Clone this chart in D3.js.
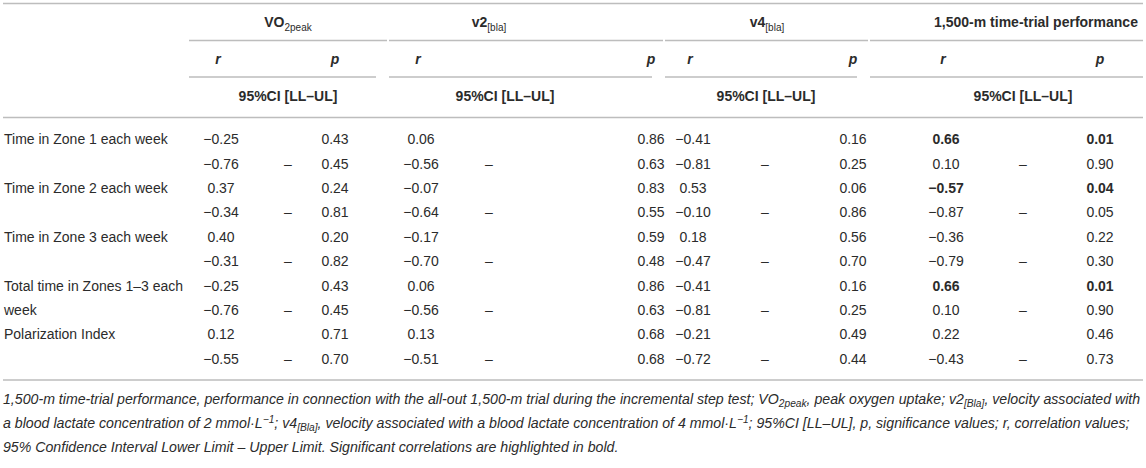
<!DOCTYPE html>
<html>
<head>
<meta charset="utf-8">
<script src="https://cdn.jsdelivr.net/npm/d3@7"></script>
<style>
  html, body { margin: 0; padding: 0; background: #fff; }
  svg text { font-family: "Liberation Sans", Arial, Helvetica, sans-serif; fill: #2b2b2b; }
</style>
</head>
<body>
<svg id="table"></svg>
<script>
// table contents
var rowLabels = ["Time in Zone 1 each week", "Time in Zone 2 each week", "Time in Zone 3 each week",
                 "Total time in Zones 1\u20133 each week", "Polarization Index"];
var groupNames = ["VO", "v2", "v4", "1,500-m time-trial performance"];
var groupSubs = ["2peak", "[bla]", "[bla]", ""];

var vo2R  = [-0.25, 0.37, 0.40, -0.25, 0.12];
var vo2P  = [0.43, 0.24, 0.20, 0.43, 0.71];
var vo2LL = [-0.76, -0.34, -0.31, -0.76, -0.55];
var vo2UL = [0.45, 0.81, 0.82, 0.45, 0.70];

var v2R  = [0.06, -0.07, -0.17, 0.06, 0.13];
var v2P  = [0.86, 0.83, 0.59, 0.86, 0.68];
var v2LL = [-0.56, -0.64, -0.70, -0.56, -0.51];
var v2UL = [0.63, 0.55, 0.48, 0.63, 0.68];

var v4R  = [-0.41, 0.53, 0.18, -0.41, -0.21];
var v4P  = [0.16, 0.06, 0.56, 0.16, 0.49];
var v4LL = [-0.81, -0.10, -0.47, -0.81, -0.72];
var v4UL = [0.25, 0.86, 0.70, 0.25, 0.44];

var ttR  = [0.66, -0.57, -0.36, 0.66, 0.22];
var ttP  = [0.01, 0.04, 0.22, 0.01, 0.46];
var ttLL = [0.10, -0.87, -0.79, 0.10, -0.43];
var ttUL = [0.90, 0.05, 0.30, 0.90, 0.73];

var groupR  = [vo2R, v2R, v4R, ttR];
var groupP  = [vo2P, v2P, v4P, ttP];
var groupLL = [vo2LL, v2LL, v4LL, ttLL];
var groupUL = [vo2UL, v2UL, v4UL, ttUL];

var width = 1146, height = 468;
var left = 3, right = 1143;
var rule = "#bdbdbd";
var fmt = d3.format(".2f");
var groups = d3.range(groupNames.length);

var svg = d3.select("svg#table").attr("width", width).attr("height", height);

// column layout (table columns are not equal width)
var xStart = d3.scaleOrdinal().domain(groups).range([188, 388, 664, 869]);
var xEnd   = d3.scaleOrdinal().domain(groups).range([388, 664, 869, right]);
var xR     = d3.scaleOrdinal().domain(groups).range([221, 421, 693, 946]);
var xDash  = d3.scaleOrdinal().domain(groups).range([288, 489, 765, 1023]);
var xP     = d3.scaleOrdinal().domain(groups).range([335, 651, 853, 1100]);
var xHead  = d3.scaleOrdinal().domain(groups).range([288, 489, 767, 1036]);
var xCI    = d3.scaleOrdinal().domain(groups).range([288, 505, 766, 1023]);
var y = d3.scaleBand().domain(d3.range(rowLabels.length * 2)).range([127, 371]);

function hline(y0, x0, x1) {
    svg.append("line")
        .attr("x1", x0).attr("x2", x1)
        .attr("y1", y0).attr("y2", y0)
        .attr("stroke", rule).attr("stroke-width", 1.6);
}

// rules
hline(3.5, left, right);
hline(117.5, left, right);
hline(380, left, right);
groups.forEach(function(g) {
    var last = g === groups.length - 1;
    hline(40.5, xStart(g) + 1, last ? right : xEnd(g) - 1);
    hline(77, xStart(g) + 1, last ? right : xEnd(g) - 12);
});

// header row 1: group names
var head = svg.append("g").attr("font-weight", "bold").attr("font-size", 14);
groupNames.forEach(function(name, i) {
    var t = head.append("text")
        .attr("x", xHead(i)).attr("y", 27)
        .attr("text-anchor", "middle");
    t.append("tspan").text(name);
    if (groupSubs[i]) {
        t.append("tspan").attr("font-size", 10).attr("font-weight", "normal")
            .attr("dy", 4).text(groupSubs[i]);
    }
});

// header rows 2 and 3
groups.forEach(function(g) {
    head.append("text")
        .attr("x", xR(g) - 3).attr("y", 64)
        .attr("text-anchor", "middle").attr("font-style", "italic")
        .text("r");
    head.append("text")
        .attr("x", xP(g)).attr("y", 64)
        .attr("text-anchor", "middle").attr("font-style", "italic")
        .text("p");
    head.append("text")
        .attr("x", xCI(g)).attr("y", 101)
        .attr("text-anchor", "middle")
        .text("95%CI [LL\u2013UL]");
});

// body
var body = svg.append("g").attr("font-size", 14);
var rowStep = y.step();

rowLabels.forEach(function(label, i) {
    var yc = y(i * 2) + y.bandwidth() / 2;
    var t = body.append("text").attr("x", left + 1).attr("y", yc).attr("dy", "0.35em");
    // word wrap inside the label column
    var words = label.split(" "), line = [], tspan = t.append("tspan").attr("x", left + 1);
    words.forEach(function(w) {
        line.push(w);
        tspan.text(line.join(" "));
        if (tspan.node().getComputedTextLength() > 190 && line.length > 1) {
            line.pop();
            tspan.text(line.join(" "));
            line = [w];
            tspan = t.append("tspan").attr("x", left + 1).attr("dy", rowStep).text(w);
        }
    });
});

groups.forEach(function(g) {
    rowLabels.forEach(function(label, i) {
        var y1 = y(i * 2) + y.bandwidth() / 2;
        var y2 = y(i * 2 + 1) + y.bandwidth() / 2;
        var sig = groupP[g][i] < 0.05;
        body.append("text")
            .attr("x", xR(g)).attr("y", y1).attr("dy", "0.35em")
            .attr("text-anchor", "middle").attr("font-weight", sig ? "bold" : null)
            .text(fmt(groupR[g][i]));
        body.append("text")
            .attr("x", xP(g)).attr("y", y1).attr("dy", "0.35em")
            .attr("text-anchor", "middle").attr("font-weight", sig ? "bold" : null)
            .text(fmt(groupP[g][i]));
        body.append("text")
            .attr("x", xR(g)).attr("y", y2).attr("dy", "0.35em")
            .attr("text-anchor", "middle")
            .text(fmt(groupLL[g][i]));
        body.append("text")
            .attr("x", xDash(g)).attr("y", y2).attr("dy", "0.35em")
            .attr("text-anchor", "middle")
            .text("\u2013");
        body.append("text")
            .attr("x", xP(g)).attr("y", y2).attr("dy", "0.35em")
            .attr("text-anchor", "middle")
            .text(fmt(groupUL[g][i]));
    });
});

// footnote
var note = svg.append("g").attr("font-size", 12.6).attr("font-style", "italic");
function noteLine(yb, parts) {
    var t = note.append("text").attr("x", left).attr("y", yb);
    parts.forEach(function(p) {
        var s = t.append("tspan").text(p[0]);
        if (p[1] === "sub") s.attr("font-size", "0.72em").attr("dy", 3);
        if (p[1] === "sup") s.attr("font-size", "0.72em").attr("dy", -5);
        if (p[1] === "back") s.attr("dy", p[2]);
    });
    return t;
}
var first = noteLine(404, [["1,500-m time-trial performance, performance in connection with the all-out 1,500-m trial during the incremental step test; VO"],
               ["2peak", "sub"], [", peak oxygen uptake; v2", "back", -3], ["[Bla]", "sub"],
               [", velocity associated with", "back", -3]]);
noteLine(428, [["a blood lactate concentration of 2 mmol\u00b7L"], ["\u22121", "sup"], ["; v4", "back", 5], ["[Bla]", "sub"],
               [", velocity associated with a blood lactate concentration of 4 mmol\u00b7L", "back", -3], ["\u22121", "sup"],
               ["; 95%CI [LL\u2013UL], p, significance values; r, correlation values;", "back", 5]]);
noteLine(452, [["95% Confidence Interval Lower Limit \u2013 Upper Limit. Significant correlations are highlighted in bold."]]);

// the footnote fills the table width
var w0 = first.node().getComputedTextLength();
note.attr("font-size", 12.6 * (right - left - 3) / w0);
</script>
</body>
</html>
